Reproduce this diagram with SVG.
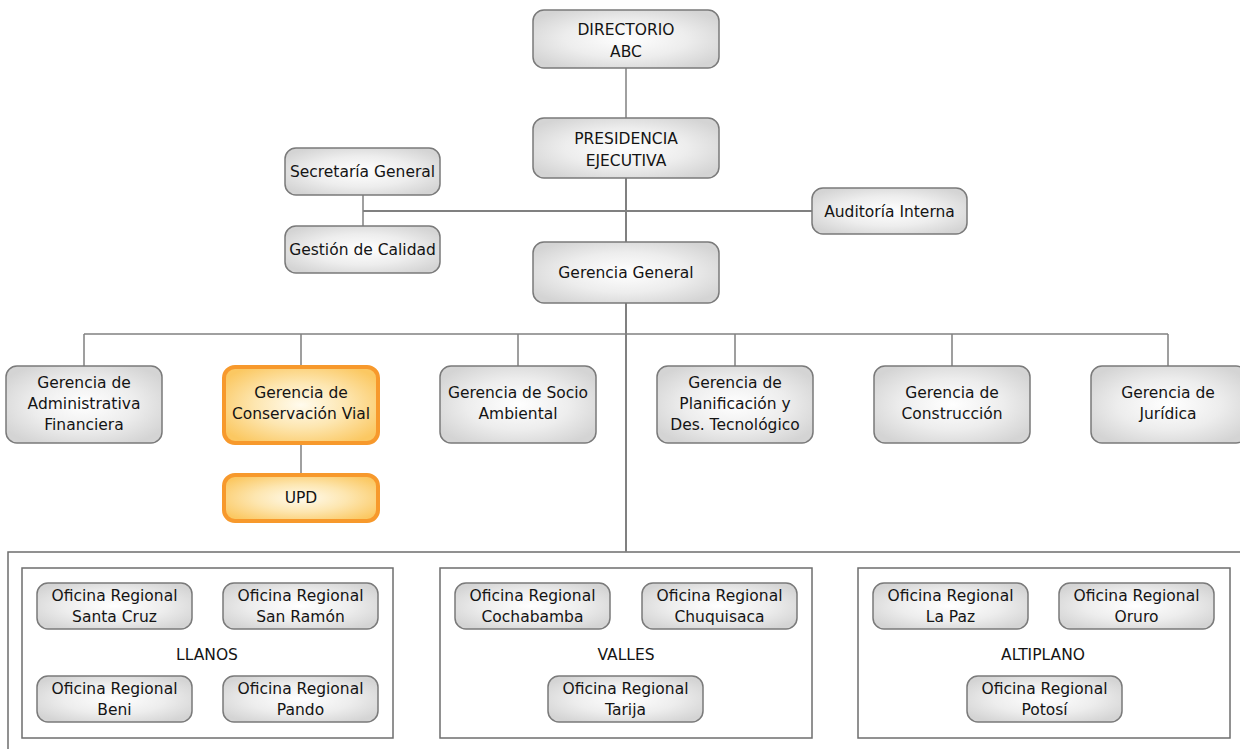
<svg xmlns="http://www.w3.org/2000/svg" width="1240" height="749" viewBox="0 0 1240 749">
  <defs>
    <radialGradient id="gGray" cx="50%" cy="50%" r="60%">
      <stop offset="0" stop-color="#ffffff"/>
      <stop offset="0.55" stop-color="#ededed"/>
      <stop offset="1" stop-color="#d4d4d4"/>
    </radialGradient>
    <radialGradient id="gOrange" cx="50%" cy="50%" r="60%">
      <stop offset="0" stop-color="#fffbee"/>
      <stop offset="0.5" stop-color="#fde6b0"/>
      <stop offset="1" stop-color="#fbc862"/>
    </radialGradient>
    <style>
      .box { fill: url(#gGray); stroke: #7a7a7a; stroke-width: 1.5; }
      .hot { fill: url(#gOrange); stroke: #f7992c; stroke-width: 4; }
      .frame { fill: none; stroke: #6e6e6e; stroke-width: 1.5; }
      .link { fill: none; stroke: #808080; stroke-width: 1.5; }
      text { font-family: "DejaVu Sans", Verdana, sans-serif; font-size: 15.5px; fill: #141414; text-anchor: middle; }
    </style>
  </defs>
  <rect width="1240" height="749" fill="#ffffff"/>

  <!-- regional frames -->
  <g id="regions">
    <rect class="frame" x="8" y="552" width="1250" height="220"/>
    <rect class="frame" x="22" y="568" width="371" height="170"/>
    <rect class="frame" x="440" y="568" width="372" height="170"/>
    <rect class="frame" x="858" y="568" width="372" height="170"/>
  </g>

  <!-- connectors -->
  <g id="connectors">
    <path class="link" d="M626 68 V118"/>
    <path class="link" d="M626 178 V552" style="stroke-width:2"/>
    <path class="link" d="M363 195 V226"/>
    <path class="link" d="M363 211 H812" style="stroke-width:2"/>
    <path class="link" d="M84 334 H1168"/>
    <path class="link" d="M84 334 V366 M301 334 V366 M518 334 V366 M735 334 V366 M952 334 V366 M1168 334 V366"/>
    <path class="link" d="M301 445 V473"/>
  </g>

  <g id="directorio">
    <rect class="box" x="533" y="10" width="186" height="58" rx="11"/>
    <text x="626" y="35">DIRECTORIO</text>
    <text x="626" y="57">ABC</text>
  </g>
  <g id="presidencia">
    <rect class="box" x="533" y="118" width="186" height="60" rx="11"/>
    <text x="626" y="144">PRESIDENCIA</text>
    <text x="626" y="166">EJECUTIVA</text>
  </g>
  <g id="secretaria">
    <rect class="box" x="285" y="148" width="155" height="47" rx="11"/>
    <text x="362.5" y="177">Secretaría General</text>
  </g>
  <g id="calidad">
    <rect class="box" x="285" y="226" width="155" height="47" rx="11"/>
    <text x="362.5" y="255">Gestión de Calidad</text>
  </g>
  <g id="auditoria">
    <rect class="box" x="812" y="188" width="155" height="46" rx="11"/>
    <text x="889.5" y="217">Auditoría Interna</text>
  </g>
  <g id="gerencia-general">
    <rect class="box" x="533" y="242" width="186" height="61" rx="11"/>
    <text x="626" y="278">Gerencia General</text>
  </g>

  <g id="g-administrativa">
    <rect class="box" x="6" y="366" width="156" height="77" rx="11"/>
    <text x="84" y="388">Gerencia de</text>
    <text x="84" y="409">Administrativa</text>
    <text x="84" y="430">Financiera</text>
  </g>
  <g id="g-conservacion">
    <rect class="hot" x="224" y="367" width="154" height="76" rx="11"/>
    <text x="301" y="398">Gerencia de</text>
    <text x="301" y="419">Conservación Vial</text>
  </g>
  <g id="upd">
    <rect class="hot" x="224" y="475" width="154" height="46" rx="11"/>
    <text x="301" y="503">UPD</text>
  </g>
  <g id="g-socio">
    <rect class="box" x="440" y="366" width="156" height="77" rx="11"/>
    <text x="518" y="398">Gerencia de Socio</text>
    <text x="518" y="419">Ambiental</text>
  </g>
  <g id="g-planificacion">
    <rect class="box" x="657" y="366" width="156" height="77" rx="11"/>
    <text x="735" y="388">Gerencia de</text>
    <text x="735" y="409">Planificación y</text>
    <text x="735" y="430">Des. Tecnológico</text>
  </g>
  <g id="g-construccion">
    <rect class="box" x="874" y="366" width="156" height="77" rx="11"/>
    <text x="952" y="398">Gerencia de</text>
    <text x="952" y="419">Construcción</text>
  </g>
  <g id="g-juridica">
    <rect class="box" x="1091" y="366" width="156" height="77" rx="11"/>
    <text x="1168" y="398">Gerencia de</text>
    <text x="1168" y="419">Jurídica</text>
  </g>

  <!-- LLANOS -->
  <g id="or-santa-cruz">
    <rect class="box" x="37" y="583" width="155" height="46" rx="11"/>
    <text x="114.5" y="601">Oficina Regional</text>
    <text x="114.5" y="622">Santa Cruz</text>
  </g>
  <g id="or-san-ramon">
    <rect class="box" x="223" y="583" width="155" height="46" rx="11"/>
    <text x="300.5" y="601">Oficina Regional</text>
    <text x="300.5" y="622">San Ramón</text>
  </g>
  <text x="207" y="660">LLANOS</text>
  <g id="or-beni">
    <rect class="box" x="37" y="676" width="155" height="46" rx="11"/>
    <text x="114.5" y="694">Oficina Regional</text>
    <text x="114.5" y="715">Beni</text>
  </g>
  <g id="or-pando">
    <rect class="box" x="223" y="676" width="155" height="46" rx="11"/>
    <text x="300.5" y="694">Oficina Regional</text>
    <text x="300.5" y="715">Pando</text>
  </g>

  <!-- VALLES -->
  <g id="or-cochabamba">
    <rect class="box" x="455" y="583" width="155" height="46" rx="11"/>
    <text x="532.5" y="601">Oficina Regional</text>
    <text x="532.5" y="622">Cochabamba</text>
  </g>
  <g id="or-chuquisaca">
    <rect class="box" x="642" y="583" width="155" height="46" rx="11"/>
    <text x="719.5" y="601">Oficina Regional</text>
    <text x="719.5" y="622">Chuquisaca</text>
  </g>
  <text x="626" y="660">VALLES</text>
  <g id="or-tarija">
    <rect class="box" x="548" y="676" width="155" height="46" rx="11"/>
    <text x="625.5" y="694">Oficina Regional</text>
    <text x="625.5" y="715">Tarija</text>
  </g>

  <!-- ALTIPLANO -->
  <g id="or-la-paz">
    <rect class="box" x="873" y="583" width="155" height="46" rx="11"/>
    <text x="950.5" y="601">Oficina Regional</text>
    <text x="950.5" y="622">La Paz</text>
  </g>
  <g id="or-oruro">
    <rect class="box" x="1059" y="583" width="155" height="46" rx="11"/>
    <text x="1136.5" y="601">Oficina Regional</text>
    <text x="1136.5" y="622">Oruro</text>
  </g>
  <text x="1043" y="660">ALTIPLANO</text>
  <g id="or-potosi">
    <rect class="box" x="967" y="676" width="155" height="46" rx="11"/>
    <text x="1044.5" y="694">Oficina Regional</text>
    <text x="1044.5" y="715">Potosí</text>
  </g>
</svg>
